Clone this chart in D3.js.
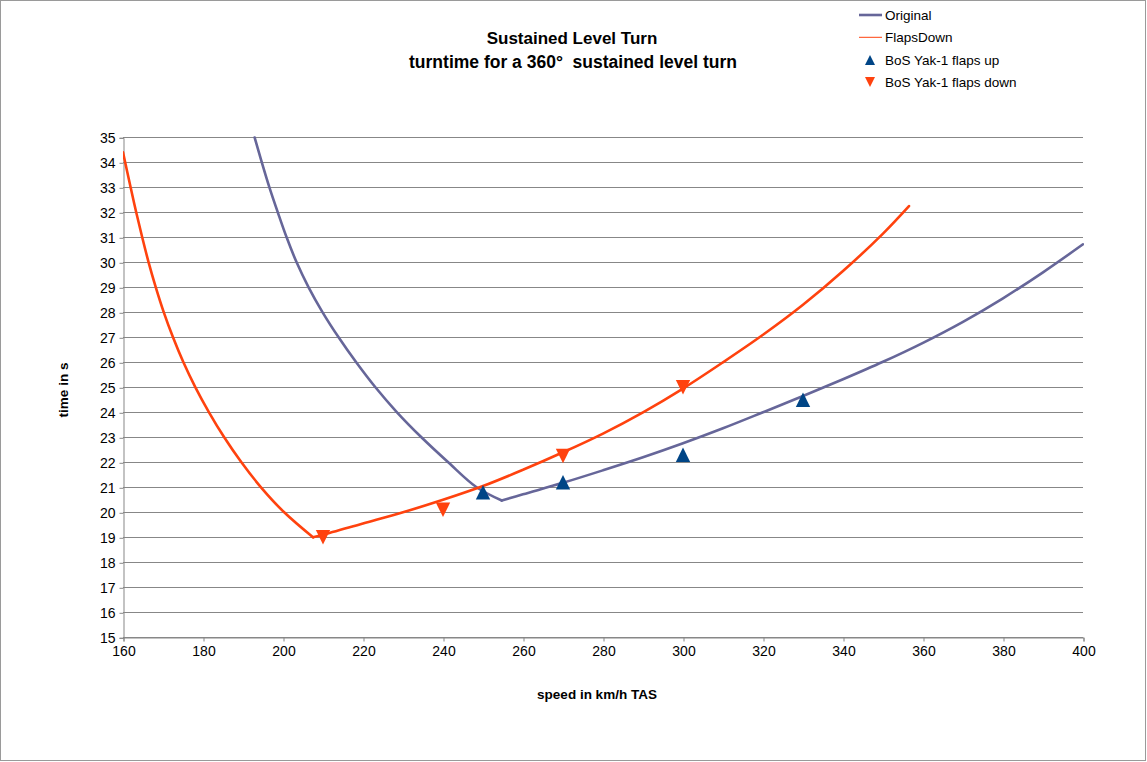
<!DOCTYPE html>
<html><head><meta charset="utf-8">
<script src="https://cdn.jsdelivr.net/npm/d3@7"></script>
<style>
html,body{margin:0;padding:0;background:#fff;}
svg{display:block;font-family:"Liberation Sans",Arial,sans-serif;}
</style></head>
<body><svg id="c" width="1147" height="762"></svg>
<script>
// ---- data ----
const xTicks = [160,180,200,220,240,260,280,300,320,340,360,380,400];
const yTicks = [15,16,17,18,19,20,21,22,23,24,25,26,27,28,29,30,31,32,33,34,35];
const originalSpeed = [192.9,194.7,196.6,198.7,200.9,203.4,206.4,209.9,213.9,218.3,223.1,228.5,234.6,241.3,248.4,254.7,260,270,280,290,300,310,320,330,340,350,360,370,380,390,400];
const originalTime  = [35,34,33,32,31,30,29,28,27,26,25,24,23,22,21,20.47,20.72,21.18,21.68,22.2,22.76,23.36,24.0,24.65,25.32,26.02,26.78,27.62,28.56,29.6,30.72];
const flapsSpeed = [160,161.9,163.3,164.8,166.4,168.2,170.2,172.5,175.1,178.1,181.5,185.3,189.6,194.5,200.3,207.5,210,220,230,240,250,260,270,280,290,300,310,320,330,340,350,356.5];
const flapsTime  = [34.4,33,32,31,30,29,28,27,26,25,24,23,22,21,20,19.0,19.1,19.55,20.0,20.5,21.05,21.7,22.4,23.15,24.0,24.95,26.0,27.1,28.3,29.65,31.15,32.25];
const bosUpSpeed = [250,270,300,330];
const bosUpTime  = [20.8,21.2,22.3,24.5];
const bosDownSpeed = [210,240,270,300];
const bosDownTime  = [19.0,20.1,22.25,25.0];
const legendLabels = ["Original","FlapsDown","BoS Yak-1 flaps up","BoS Yak-1 flaps down"];

const colOrig = "#666699", colFlaps = "#ff420e", colUp = "#004586", colDown = "#ff420e";
const grid = "#878787";

const svg = d3.select("#c");
svg.append("rect").attr("x",0.5).attr("y",0.5).attr("width",1145).attr("height",760)
  .attr("fill","#fff").attr("stroke","#9a9a9a");

const L=123, R=1083, T=137.3, B=637.3;
const x = d3.scaleLinear().domain([160,400]).range([L,R]);
const y = d3.scaleLinear().domain([15,35]).range([B,T]);

// grid
svg.append("g").selectAll("line").data(yTicks).join("line")
  .attr("x1",L).attr("x2",R).attr("y1",d=>Math.round(y(d))+0.5).attr("y2",d=>Math.round(y(d))+0.5)
  .attr("stroke",grid).attr("stroke-width",1);

// axes
const yAxis = d3.axisLeft(y).tickValues(yTicks).tickSize(4).tickPadding(4).tickFormat(d3.format("d"));
const gy = svg.append("g").attr("transform",`translate(${L+0.5},0.5)`).call(yAxis);
const xAxis = d3.axisBottom(x).tickValues(xTicks).tickSize(4).tickPadding(5).tickFormat(d3.format("d"));
const gx = svg.append("g").attr("transform",`translate(0.5,${Math.round(B)+0.5})`).call(xAxis);
[gx,gy].forEach(g=>{
  g.selectAll("path,line").attr("stroke",grid);
  g.selectAll("text").attr("fill","#000").style("font-size","14px").style("font-family","Liberation Sans, Arial, sans-serif");
});

// clip
svg.append("clipPath").attr("id","pc").append("rect").attr("x",L).attr("y",T-1).attr("width",R-L+1).attr("height",B-T+2);

// each curve drawn as two smooth branches joined at its minimum
const line = d3.line().x(d=>x(d[0])).y(d=>y(d[1])).curve(d3.curveCatmullRom.alpha(0.5));
function branches(sp, tm){
  const pts = sp.map((s,i)=>[s,tm[i]]);
  const k = d3.minIndex(tm);
  return [pts.slice(0,k+1), pts.slice(k)];
}
const plot = svg.append("g").attr("clip-path","url(#pc)");
[[originalSpeed,originalTime,colOrig],[flapsSpeed,flapsTime,colFlaps]].forEach(([sp,tm,c])=>{
  const g = plot.append("g");
  g.selectAll("path").data(branches(sp,tm)).join("path")
    .attr("d",line).attr("fill","none").attr("stroke",c).attr("stroke-width",2.6)
    .attr("stroke-linejoin","round").attr("stroke-linecap","round");
});

const up = (cx,cy,s)=>`M${cx-s},${cy+s}L${cx+s},${cy+s}L${cx},${cy-s}Z`;
const down = (cx,cy,s)=>`M${cx-s},${cy-s}L${cx+s},${cy-s}L${cx},${cy+s}Z`;
svg.append("g").selectAll("path").data(bosUpSpeed.map((s,i)=>[s,bosUpTime[i]])).join("path")
  .attr("d",d=>up(x(d[0]),y(d[1]),7.2)).attr("fill",colUp);
svg.append("g").selectAll("path").data(bosDownSpeed.map((s,i)=>[s,bosDownTime[i]])).join("path")
  .attr("d",d=>down(x(d[0]),y(d[1]),7.2)).attr("fill",colDown);

// titles
const title = svg.append("text").attr("text-anchor","middle").attr("font-weight","bold").attr("font-size","17px").attr("fill","#000");
title.append("tspan").attr("x",572).attr("y",44).text("Sustained Level Turn");
title.append("tspan").attr("x",573).attr("y",68).attr("font-size","17.5px").text("turntime for a 360°  sustained level turn").attr("xml:space","preserve");
svg.append("text").attr("x",597).attr("y",699).attr("text-anchor","middle").attr("font-weight","bold").attr("font-size","13.5px").text("speed in km/h TAS");
svg.append("text").attr("transform","translate(68,390) rotate(-90)").attr("text-anchor","middle").attr("font-weight","bold").attr("font-size","13.5px").text("time in s");

// legend
const lg = svg.append("g").style("font-size","13.5px");
const rowY = [15,37.3,60,82];
lg.append("line").attr("x1",859).attr("x2",882).attr("y1",rowY[0]).attr("y2",rowY[0]).attr("stroke",colOrig).attr("stroke-width",2.6);
lg.append("line").attr("x1",859).attr("x2",882).attr("y1",rowY[1]).attr("y2",rowY[1]).attr("stroke",colFlaps).attr("stroke-width",1);
lg.append("path").attr("d",up(870,rowY[2],5)).attr("fill",colUp);
lg.append("path").attr("d",down(870,rowY[3],5)).attr("fill",colDown);
lg.selectAll("text").data(legendLabels).join("text").attr("x",885).attr("y",(d,i)=>rowY[i]+5).attr("fill","#000").text(d=>d);
</script></body></html>
